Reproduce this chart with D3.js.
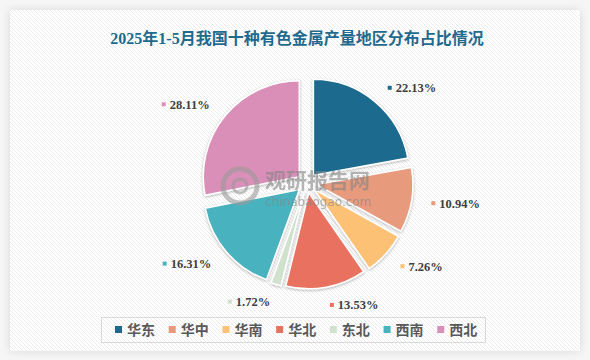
<!DOCTYPE html>
<html><head><meta charset="utf-8">
<script src="https://cdn.jsdelivr.net/npm/d3@7"></script>
<style>html,body{margin:0;padding:0;background:#fff;}svg{display:block;}</style>
</head><body>
<div id="chart"></div>
<script>
const title = "2025年1-5月我国十种有色金属产量地区分布占比情况";
const categories = ["华东","华中","华南","华北","东北","西南","西北"];
const values = [22.13,10.94,7.26,13.53,1.72,16.31,28.11];
const colors = ["#1d6a8e","#e89b7b","#fdc176","#e8725f","#d0e2cd","#48b2bf","#da8fb8"];

const W = 590, H = 360;
const svg = d3.select("#chart").append("svg").attr("width", W).attr("height", H);
const defs = svg.append("defs");

// hatch pattern
const pat = defs.append("pattern").attr("id","hatch").attr("patternUnits","userSpaceOnUse")
  .attr("width",4).attr("height",4);
pat.append("rect").attr("width",4).attr("height",4).attr("fill","#ffffff");
pat.append("path").attr("d","M-1,-1 L5,5 M-1,3 L1,5 M3,-1 L5,1").attr("stroke","#ececec").attr("stroke-width",1);

const fPanel = defs.append("filter").attr("id","pshadow").attr("x","-10%").attr("y","-10%").attr("width","120%").attr("height","120%");
fPanel.append("feDropShadow").attr("dx",0).attr("dy",0).attr("stdDeviation",5).attr("flood-color","#000").attr("flood-opacity",0.12);

const fPie = defs.append("filter").attr("id","sshadow").attr("x","-20%").attr("y","-20%").attr("width","140%").attr("height","140%");
fPie.append("feDropShadow").attr("dx",0).attr("dy",1).attr("stdDeviation",1.8).attr("flood-color","#000").attr("flood-opacity",0.3);

svg.append("rect").attr("width",W).attr("height",H).attr("fill","#f6f6f6");
svg.append("rect").attr("x",10).attr("y",10).attr("width",570).attr("height",341)
  .attr("fill","#fff").attr("filter","url(#pshadow)");
svg.append("rect").attr("x",10).attr("y",10).attr("width",570).attr("height",341)
  .attr("fill","url(#hatch)");

// title
svg.append("text").attr("x",297).attr("y",44).attr("text-anchor","middle")
  .attr("font-family","'Liberation Serif','Noto Sans CJK SC',serif").attr("font-weight","bold")
  .attr("font-size",16).attr("fill","#1f6a8d").text(title);

// pie
const cx = 307, cy = 183, r = 96, explode = 10;
const pie = d3.pie().sort(null).value(d => d)(values);
const arc = d3.arc().innerRadius(0).outerRadius(r);
const g = svg.append("g").attr("transform",`translate(${cx},${cy})`);

g.selectAll("path.slice").data(pie).enter().append("path")
  .attr("class","slice")
  .attr("d", arc)
  .attr("transform", d => {
    const m = (d.startAngle + d.endAngle)/2;
    return `translate(${explode*Math.sin(m)},${-explode*Math.cos(m)})`;
  })
  .attr("fill", (d,i) => colors[i])
  .attr("stroke","#fff").attr("stroke-width",1.5)
  .attr("filter","url(#sshadow)");

// watermark
const wm = svg.append("g").attr("opacity",0.6);
wm.append("circle").attr("cx",240).attr("cy",186).attr("r",17).attr("fill","none").attr("stroke","#9a9a9a").attr("stroke-width",5);
wm.append("circle").attr("cx",240).attr("cy",186).attr("r",7).attr("fill","none").attr("stroke","#9a9a9a").attr("stroke-width",3);
wm.append("text").attr("x",265).attr("y",188).attr("font-family","'Noto Sans CJK SC',sans-serif")
  .attr("font-weight","bold").attr("font-size",21).attr("fill","#858585").text("观研报告网");
wm.append("text").attr("x",265).attr("y",206).attr("font-family","'DejaVu Sans',sans-serif")
  .attr("font-size",12).attr("fill","#858585").text("chinabaogao.com");

// labels
const lab = svg.append("g");
pie.forEach((d,i) => {
  const m = (d.startAngle + d.endAngle)/2;
  const s = Math.sin(m), c = Math.cos(m);
  const gg = lab.append("g");
  const t = gg.append("text").attr("x",8).attr("y",0).attr("dy","0.35em")
    .attr("font-family","'Liberation Serif',serif").attr("font-weight","bold")
    .attr("font-size",12.5).attr("fill","#404040").text(values[i].toFixed(2)+"%");
  gg.append("rect").attr("x",0).attr("y",-2).attr("width",4).attr("height",4).attr("fill",colors[i]);
  const w = 8 + t.node().getComputedTextLength();
  const mx = cx + 126*s + (s>=0?1:-1)*w/2;
  const my = cy - 124*c;
  gg.attr("transform",`translate(${mx - w/2},${my})`);
});

// legend
svg.append("rect").attr("x",101.5).attr("y",317.5).attr("width",384).attr("height",25)
  .attr("fill","none").attr("stroke","#d9d9d9").attr("stroke-width",1);
const lx = d3.scaleBand().domain(categories).range([108,484]);
const leg = svg.append("g");
categories.forEach((cat,i) => {
  const x0 = lx(cat);
  leg.append("rect").attr("x",x0+7).attr("y",326).attr("width",7).attr("height",7).attr("fill",colors[i]);
  leg.append("text").attr("x",x0+19).attr("y",334.5).attr("font-family","'Noto Sans CJK SC',sans-serif")
    .attr("font-weight","bold").attr("font-size",14).attr("fill","#595959").text(cat);
});
</script>
</body></html>
